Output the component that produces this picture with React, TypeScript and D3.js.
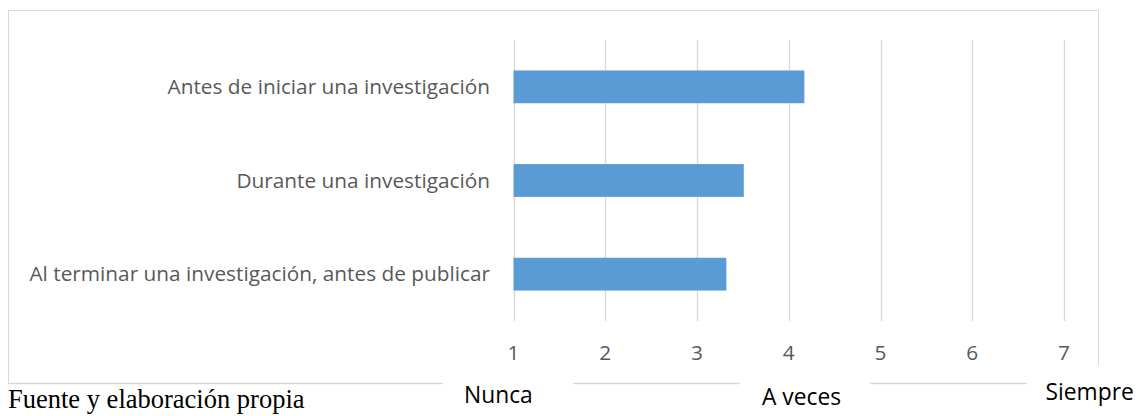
import React from "react";
import * as d3 from "d3";

const categories = [
  "Antes de iniciar una investigación",
  "Durante una investigación",
  "Al terminar una investigación, antes de publicar",
];
const values = [4.17, 3.51, 3.32];
const ticks = [1, 2, 3, 4, 5, 6, 7];
const scaleLabels = ["Nunca", "A veces", "Siempre"];
const scaleLabelAt = [0.835, 4.14, 7.28];
const source = "Fuente y elaboración propia";

export default function App() {
  const W = 1138, H = 416;
  const x = d3.scaleLinear().domain([1, 7]).range([513.5, 1064]);
  const y = d3.scaleBand<string>().domain(categories).range([40, 321]).paddingInner(0.65).paddingOuter(0.325);
  const font = "'Open Sans', sans-serif";
  const labelBaselines = [403, 405, 400];
  return (
    <svg width={W} height={H} style={{ position: "absolute", left: 0, top: 0 }}>
      {/* chart frame */}
      <line x1={8} x2={1099} y1={10.5} y2={10.5} stroke="#D9D9D9" />
      <line x1={8.5} x2={8.5} y1={10} y2={383} stroke="#D9D9D9" />
      <line x1={1098.5} x2={1098.5} y1={10} y2={365} stroke="#D9D9D9" />
      {[[8, 443], [573, 740], [870, 1027]].map(([a, b], i) => (
        <line key={i} x1={a} x2={b} y1={383.5} y2={383.5} stroke="#D9D9D9" strokeWidth={1.5} />
      ))}
      {ticks.map((t) => (
        <line key={t} x1={Math.round(x(t)) + 0.5} x2={Math.round(x(t)) + 0.5} y1={40} y2={321} stroke="#D9D9D9" strokeWidth={1.3} />
      ))}
      {categories.map((c, i) => (
        <rect key={c} x={x(1)} y={y(c)} width={x(values[i]) - x(1)} height={y.bandwidth()} fill="#5B9BD5" />
      ))}
      {categories.map((c) => (
        <text key={c} x={490} y={(y(c) as number) + y.bandwidth() / 2} dy="0.35em" textAnchor="end" fontFamily={font} fontSize={20.8} fill="#595959">
          {c}
        </text>
      ))}
      {ticks.map((t) => (
        <text key={t} x={x(t)} y={360} textAnchor="middle" fontFamily={font} fontSize={20.8} fill="#595959">
          {t}
        </text>
      ))}
      {scaleLabels.map((s, i) => (
        <text key={s} x={x(scaleLabelAt[i])} y={labelBaselines[i]} textAnchor="middle" fontFamily={font} fontSize={22.8} fill="#000">
          {s}
        </text>
      ))}
      <text x={8} y={408} fontFamily="'Liberation Serif', 'Times New Roman', serif" fontSize={26.5} fill="#000">
        {source}
      </text>
    </svg>
  );
}
